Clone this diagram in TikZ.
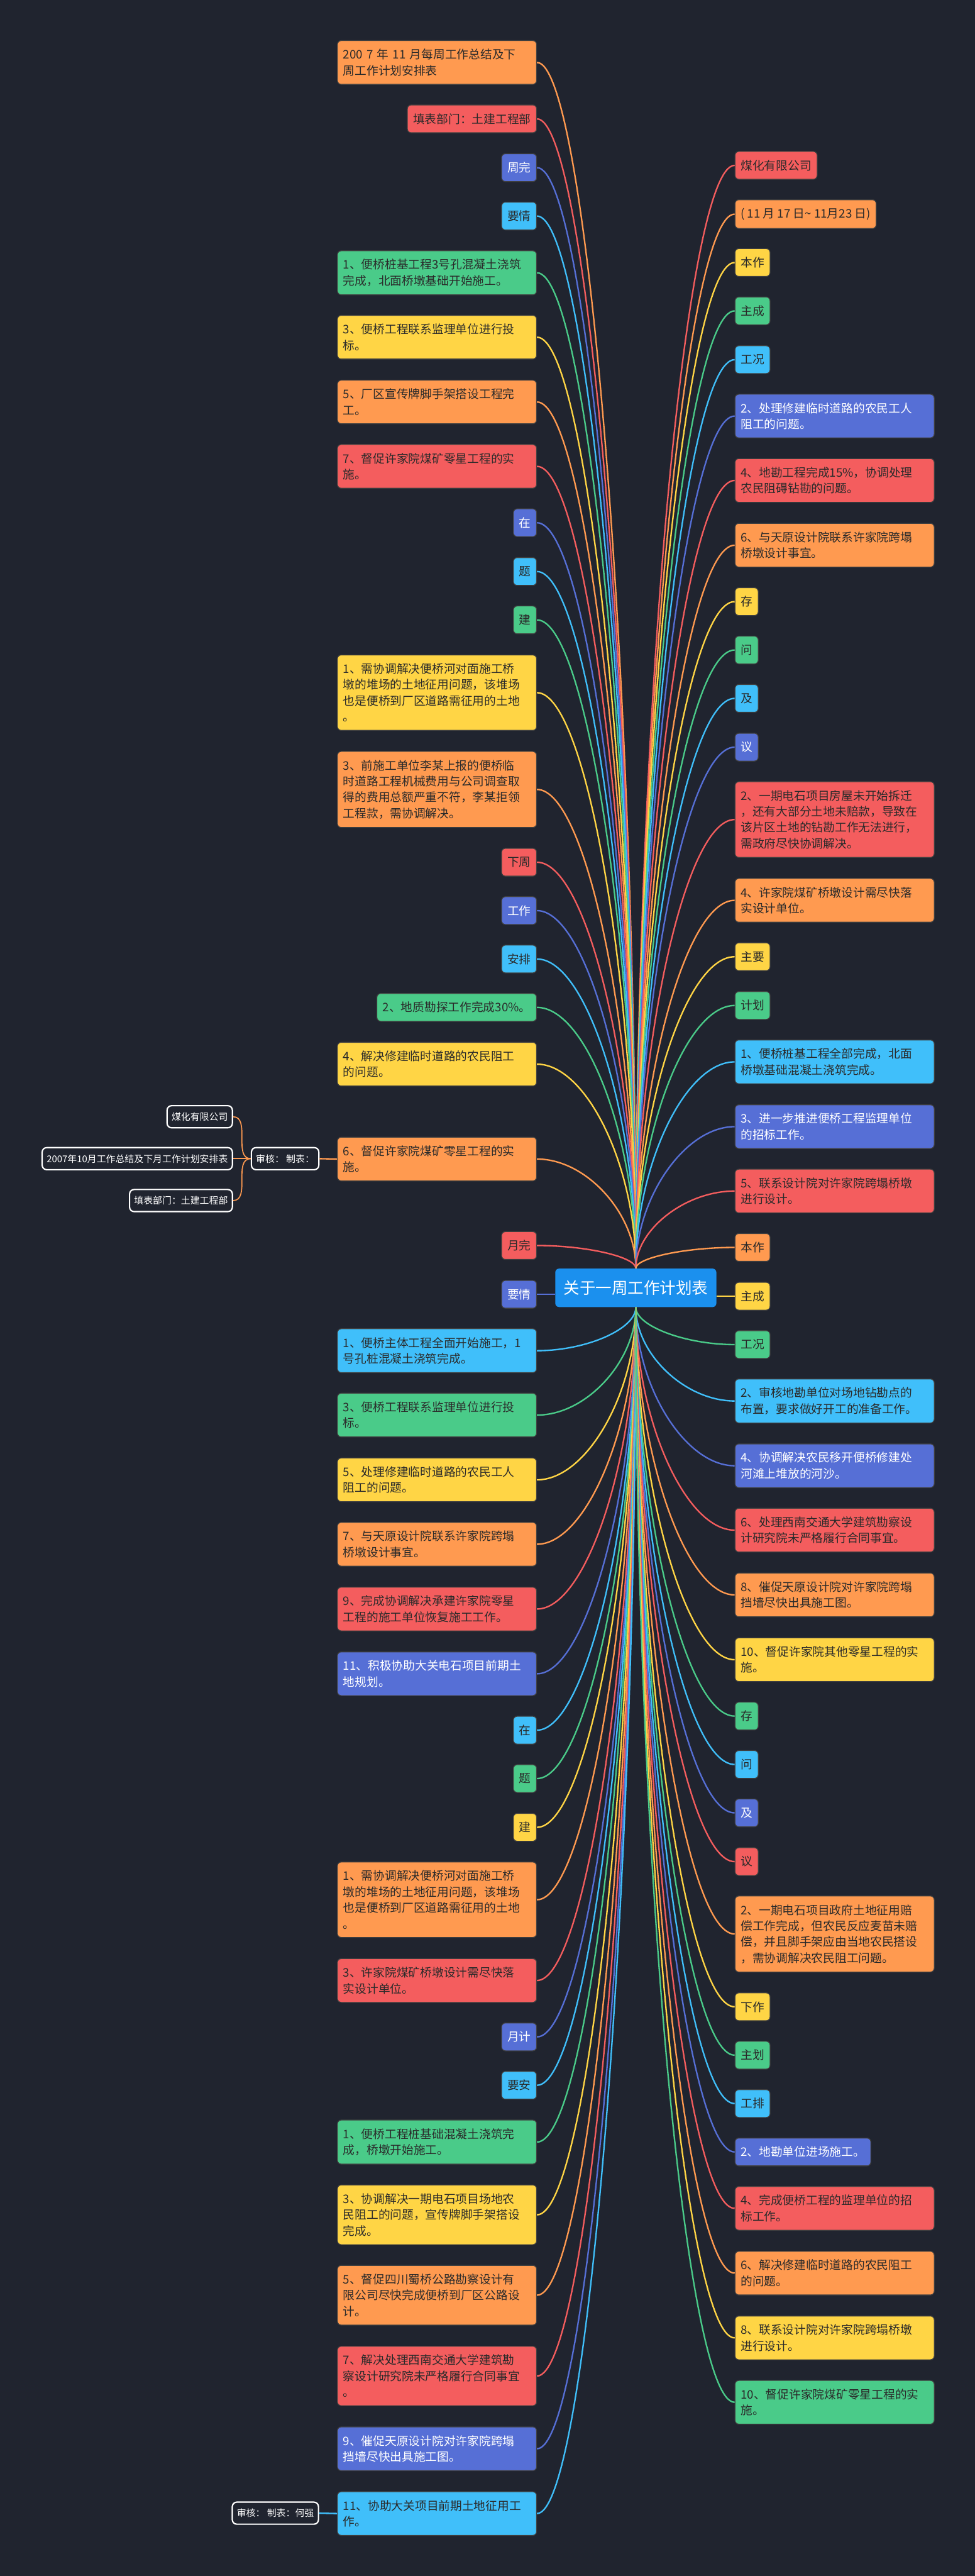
\documentclass[tikz,border=0pt]{standalone}
\usepackage{fontspec}
\setmainfont{Noto Sans CJK SC}
\usetikzlibrary{calc}
\definecolor{bgc}{HTML}{20242F}
\definecolor{cor}{HTML}{FF9A50}
\definecolor{cre}{HTML}{F45D5E}
\definecolor{cbl}{HTML}{566FD6}
\definecolor{ccy}{HTML}{40BFFA}
\definecolor{cgr}{HTML}{4ACB89}
\definecolor{cye}{HTML}{FFD545}
\definecolor{croot}{HTML}{1B90EE}
\definecolor{ctx}{HTML}{2A2A2A}
\tikzstyle{item}=[rectangle, rounded corners=0.1cm, draw=black!75, line width=0.6pt, inner xsep=0.15cm, inner ysep=0.22cm, minimum height=0.73cm, align=left, text=ctx, font=\fontsize{8.8}{11.95}\selectfont]
\tikzstyle{wide}=[item, text width=4.93cm]
\tikzstyle{lt}=[anchor=east]
\tikzstyle{rt}=[anchor=west]
\tikzstyle{wt}=[text=white]
\tikzstyle{tag}=[rectangle, rounded corners=0.12cm, draw=white, line width=1pt, fill=bgc, text=white, inner xsep=0.12cm, minimum height=0.58cm, font=\fontsize{7}{9}\selectfont]
\tikzstyle{rootbox}=[rectangle, rounded corners=0.1cm, fill=croot, text=white, minimum width=4.23cm, minimum height=1.01cm, font=\fontsize{12}{14}\selectfont]
\tikzstyle{br}=[line width=1.1pt, to path={.. controls ($(\tikztostart)!0.5!(\tikztostart -| \tikztotarget)$) and ($(\tikztotarget)!0.5!(\tikztotarget |- \tikztostart)$) .. (\tikztotarget)}]

\begin{document}
\begin{tikzpicture}
  \fill[bgc] (0,0) rectangle (25.6,-67.61);
  \node[rootbox] (root) at (16.695,-33.80) {关于一周工作计划表};

  % left side, upper half
  \node[wide,lt,fill=cor] (l1) at (14.10,-1.64) {200 7 年 11 月每周工作总结及下\\周工作计划安排表};
  \node[item,lt,fill=cre] (l2) at (14.10,-3.12) {填表部门：土建工程部};
  \node[item,lt,fill=cbl,wt] (l3) at (14.10,-4.40) {周完};
  \node[item,lt,fill=ccy] (l4) at (14.10,-5.67) {要情};
  \node[wide,lt,fill=cgr] (l5) at (14.10,-7.16) {1、便桥桩基工程3号孔混凝土浇筑\\完成，北面桥墩基础开始施工。};
  \node[wide,lt,fill=cye] (l6) at (14.10,-8.85) {3、便桥工程联系监理单位进行投\\标。};
  \node[wide,lt,fill=cor] (l7) at (14.10,-10.55) {5、厂区宣传牌脚手架搭设工程完\\工。};
  \node[wide,lt,fill=cre] (l8) at (14.10,-12.24) {7、督促许家院煤矿零星工程的实\\施。};
  \node[item,lt,fill=cbl,wt] (l9) at (14.10,-13.72) {在};
  \node[item,lt,fill=ccy] (l10) at (14.10,-15.00) {题};
  \node[item,lt,fill=cgr] (l11) at (14.10,-16.27) {建};
  \node[wide,lt,fill=cye] (l12) at (14.10,-18.18) {1、需协调解决便桥河对面施工桥\\墩的堆场的土地征用问题，该堆场\\也是便桥到厂区道路需征用的土地\\。};
  \node[wide,lt,fill=cor] (l13) at (14.10,-20.72) {3、前施工单位李某上报的便桥临\\时道路工程机械费用与公司调查取\\得的费用总额严重不符，李某拒领\\工程款，需协调解决。};
  \node[item,lt,fill=cre] (l14) at (14.10,-22.63) {下周};
  \node[item,lt,fill=cbl,wt] (l15) at (14.10,-23.90) {工作};
  \node[item,lt,fill=ccy] (l16) at (14.10,-25.17) {安排};
  \node[item,lt,fill=cgr] (l17) at (14.10,-26.44) {2、地质勘探工作完成30\%。};
  \node[wide,lt,fill=cye] (l18) at (14.10,-27.93) {4、解决修建临时道路的农民阻工\\的问题。};
  \node[wide,lt,fill=cor] (l19) at (14.10,-30.42) {6、督促许家院煤矿零星工程的实\\施。};
  \node[item,lt,fill=cre] (l20) at (14.10,-32.69) {月完};
  \node[item,lt,fill=cbl,wt] (l21) at (14.10,-33.97) {要情};
  % left side, lower half
  \node[wide,lt,fill=ccy] (l22) at (14.10,-35.45) {1、便桥主体工程全面开始施工，1\\号孔桩混凝土浇筑完成。};
  \node[wide,lt,fill=cgr] (l23) at (14.10,-37.14) {3、便桥工程联系监理单位进行投\\标。};
  \node[wide,lt,fill=cye] (l24) at (14.10,-38.84) {5、处理修建临时道路的农民工人\\阻工的问题。};
  \node[wide,lt,fill=cor] (l25) at (14.10,-40.53) {7、与天原设计院联系许家院跨塌\\桥墩设计事宜。};
  \node[wide,lt,fill=cre] (l26) at (14.10,-42.23) {9、完成协调解决承建许家院零星\\工程的施工单位恢复施工工作。};
  \node[wide,lt,fill=cbl,wt] (l27) at (14.10,-43.93) {11、积极协助大关电石项目前期土\\地规划。};
  \node[item,lt,fill=ccy] (l28) at (14.10,-45.41) {在};
  \node[item,lt,fill=cgr] (l29) at (14.10,-46.68) {题};
  \node[item,lt,fill=cye] (l30) at (14.10,-47.96) {建};
  \node[wide,lt,fill=cor] (l31) at (14.10,-49.86) {1、需协调解决便桥河对面施工桥\\墩的堆场的土地征用问题，该堆场\\也是便桥到厂区道路需征用的土地\\。};
  \node[wide,lt,fill=cre] (l32) at (14.10,-51.98) {3、许家院煤矿桥墩设计需尽快落\\实设计单位。};
  \node[item,lt,fill=cbl,wt] (l33) at (14.10,-53.46) {月计};
  \node[item,lt,fill=ccy] (l34) at (14.10,-54.73) {要安};
  \node[wide,lt,fill=cgr] (l35) at (14.10,-56.22) {1、便桥工程桩基础混凝土浇筑完\\成，桥墩开始施工。};
  \node[wide,lt,fill=cye] (l36) at (14.10,-58.13) {3、协调解决一期电石项目场地农\\民阻工的问题，宣传牌脚手架搭设\\完成。};
  \node[wide,lt,fill=cor] (l37) at (14.10,-60.24) {5、督促四川蜀桥公路勘察设计有\\限公司尽快完成便桥到厂区公路设\\计。};
  \node[wide,lt,fill=cre] (l38) at (14.10,-62.36) {7、解决处理西南交通大学建筑勘\\察设计研究院未严格履行合同事宜\\。};
  \node[wide,lt,fill=cbl,wt] (l39) at (14.10,-64.27) {9、催促天原设计院对许家院跨塌\\挡墙尽快出具施工图。};
  \node[wide,lt,fill=ccy] (l40) at (14.10,-65.97) {11、协助大关项目前期土地征用工\\作。};

  % right side, upper half
  \node[item,rt,fill=cre] (r1) at (19.29,-4.34) {煤化有限公司};
  \node[item,rt,fill=cor] (r2) at (19.29,-5.62) {( 11 月 17 日\textasciitilde{} 11月23 日)};
  \node[item,rt,fill=cye] (r3) at (19.29,-6.89) {本作};
  \node[item,rt,fill=cgr] (r4) at (19.29,-8.16) {主成};
  \node[item,rt,fill=ccy] (r5) at (19.29,-9.44) {工况};
  \node[wide,rt,fill=cbl,wt] (r6) at (19.29,-10.92) {2、处理修建临时道路的农民工人\\阻工的问题。};
  \node[wide,rt,fill=cre] (r7) at (19.29,-12.61) {4、地勘工程完成15\%，协调处理\\农民阻碍钻勘的问题。};
  \node[wide,rt,fill=cor] (r8) at (19.29,-14.31) {6、与天原设计院联系许家院跨塌\\桥墩设计事宜。};
  \node[item,rt,fill=cye] (r9) at (19.29,-15.79) {存};
  \node[item,rt,fill=cgr] (r10) at (19.29,-17.06) {问};
  \node[item,rt,fill=ccy] (r11) at (19.29,-18.33) {及};
  \node[item,rt,fill=cbl,wt] (r12) at (19.29,-19.61) {议};
  \node[wide,rt,fill=cre] (r13) at (19.29,-21.51) {2、一期电石项目房屋未开始拆迁\\，还有大部分土地未赔款，导致在\\该片区土地的钻勘工作无法进行，\\需政府尽快协调解决。};
  \node[wide,rt,fill=cor] (r14) at (19.29,-23.63) {4、许家院煤矿桥墩设计需尽快落\\实设计单位。};
  \node[item,rt,fill=cye] (r15) at (19.29,-25.11) {主要};
  \node[item,rt,fill=cgr] (r16) at (19.29,-26.39) {计划};
  \node[wide,rt,fill=ccy] (r17) at (19.29,-27.87) {1、便桥桩基工程全部完成，北面\\桥墩基础混凝土浇筑完成。};
  \node[wide,rt,fill=cbl,wt] (r18) at (19.29,-29.57) {3、进一步推进便桥工程监理单位\\的招标工作。};
  \node[wide,rt,fill=cre] (r19) at (19.29,-31.26) {5、联系设计院对许家院跨塌桥墩\\进行设计。};
  \node[item,rt,fill=cor] (r20) at (19.29,-32.74) {本作};
  \node[item,rt,fill=cye] (r21) at (19.29,-34.02) {主成};
  % right side, lower half
  \node[item,rt,fill=cgr] (r22) at (19.29,-35.29) {工况};
  \node[wide,rt,fill=ccy] (r23) at (19.29,-36.77) {2、审核地勘单位对场地钻勘点的\\布置，要求做好开工的准备工作。};
  \node[wide,rt,fill=cbl,wt] (r24) at (19.29,-38.47) {4、协调解决农民移开便桥修建处\\河滩上堆放的河沙。};
  \node[wide,rt,fill=cre] (r25) at (19.29,-40.16) {6、处理西南交通大学建筑勘察设\\计研究院未严格履行合同事宜。};
  \node[wide,rt,fill=cor] (r26) at (19.29,-41.86) {8、催促天原设计院对许家院跨塌\\挡墙尽快出具施工图。};
  \node[wide,rt,fill=cye] (r27) at (19.29,-43.56) {10、督促许家院其他零星工程的实\\施。};
  \node[item,rt,fill=cgr] (r28) at (19.29,-45.04) {存};
  \node[item,rt,fill=ccy] (r29) at (19.29,-46.31) {问};
  \node[item,rt,fill=cbl,wt] (r30) at (19.29,-47.58) {及};
  \node[item,rt,fill=cre] (r31) at (19.29,-48.86) {议};
  \node[wide,rt,fill=cor] (r32) at (19.29,-50.76) {2、一期电石项目政府土地征用赔\\偿工作完成，但农民反应麦苗未赔\\偿，并且脚手架应由当地农民搭设\\，需协调解决农民阻工问题。};
  \node[item,rt,fill=cye] (r33) at (19.29,-52.67) {下作};
  \node[item,rt,fill=cgr] (r34) at (19.29,-53.94) {主划};
  \node[item,rt,fill=ccy] (r35) at (19.29,-55.21) {工排};
  \node[item,rt,fill=cbl,wt] (r36) at (19.29,-56.48) {2、地勘单位进场施工。};
  \node[wide,rt,fill=cre] (r37) at (19.29,-57.96) {4、完成便桥工程的监理单位的招\\标工作。};
  \node[wide,rt,fill=cor] (r38) at (19.29,-59.66) {6、解决修建临时道路的农民阻工\\的问题。};
  \node[wide,rt,fill=cye] (r39) at (19.29,-61.36) {8、联系设计院对许家院跨塌桥墩\\进行设计。};
  \node[wide,rt,fill=cgr] (r40) at (19.29,-63.05) {10、督促许家院煤矿零星工程的实\\施。};

  % tags on the far left
  \node[tag,anchor=east] (shen) at (8.39,-30.41) {审核：\ 制表：};
  \node[tag,anchor=east] (mh) at (6.12,-29.31) {煤化有限公司};
  \node[tag,anchor=east] (zj) at (6.12,-30.41) {2007年10月工作总结及下月工作计划安排表};
  \node[tag,anchor=east] (tb) at (6.12,-31.51) {填表部门：土建工程部};
  \node[tag,anchor=east] (shen2) at (8.38,-65.96) {审核：\ 制表：何强};

  % branches to the root
  \draw[br,cor] (l1.east) to (root.north);
  \draw[br,cre] (l2.east) to (root.north);
  \draw[br,cbl] (l3.east) to (root.north);
  \draw[br,ccy] (l4.east) to (root.north);
  \draw[br,cgr] (l5.east) to (root.north);
  \draw[br,cye] (l6.east) to (root.north);
  \draw[br,cor] (l7.east) to (root.north);
  \draw[br,cre] (l8.east) to (root.north);
  \draw[br,cbl] (l9.east) to (root.north);
  \draw[br,ccy] (l10.east) to (root.north);
  \draw[br,cgr] (l11.east) to (root.north);
  \draw[br,cye] (l12.east) to (root.north);
  \draw[br,cor] (l13.east) to (root.north);
  \draw[br,cre] (l14.east) to (root.north);
  \draw[br,cbl] (l15.east) to (root.north);
  \draw[br,ccy] (l16.east) to (root.north);
  \draw[br,cgr] (l17.east) to (root.north);
  \draw[br,cye] (l18.east) to (root.north);
  \draw[br,cor] (l19.east) to (root.north);
  \draw[br,cre] (l20.east) to (root.north);
  \draw[cbl,line width=1.1pt] (l21.east) -- (l21.east -| root.west);
  \draw[br,ccy] (l22.east) to (root.south);
  \draw[br,cgr] (l23.east) to (root.south);
  \draw[br,cye] (l24.east) to (root.south);
  \draw[br,cor] (l25.east) to (root.south);
  \draw[br,cre] (l26.east) to (root.south);
  \draw[br,cbl] (l27.east) to (root.south);
  \draw[br,ccy] (l28.east) to (root.south);
  \draw[br,cgr] (l29.east) to (root.south);
  \draw[br,cye] (l30.east) to (root.south);
  \draw[br,cor] (l31.east) to (root.south);
  \draw[br,cre] (l32.east) to (root.south);
  \draw[br,cbl] (l33.east) to (root.south);
  \draw[br,ccy] (l34.east) to (root.south);
  \draw[br,cgr] (l35.east) to (root.south);
  \draw[br,cye] (l36.east) to (root.south);
  \draw[br,cor] (l37.east) to (root.south);
  \draw[br,cre] (l38.east) to (root.south);
  \draw[br,cbl] (l39.east) to (root.south);
  \draw[br,ccy] (l40.east) to (root.south);

  \draw[br,cre] (r1.west) to (root.north);
  \draw[br,cor] (r2.west) to (root.north);
  \draw[br,cye] (r3.west) to (root.north);
  \draw[br,cgr] (r4.west) to (root.north);
  \draw[br,ccy] (r5.west) to (root.north);
  \draw[br,cbl] (r6.west) to (root.north);
  \draw[br,cre] (r7.west) to (root.north);
  \draw[br,cor] (r8.west) to (root.north);
  \draw[br,cye] (r9.west) to (root.north);
  \draw[br,cgr] (r10.west) to (root.north);
  \draw[br,ccy] (r11.west) to (root.north);
  \draw[br,cbl] (r12.west) to (root.north);
  \draw[br,cre] (r13.west) to (root.north);
  \draw[br,cor] (r14.west) to (root.north);
  \draw[br,cye] (r15.west) to (root.north);
  \draw[br,cgr] (r16.west) to (root.north);
  \draw[br,ccy] (r17.west) to (root.north);
  \draw[br,cbl] (r18.west) to (root.north);
  \draw[br,cre] (r19.west) to (root.north);
  \draw[br,cor] (r20.west) to (root.north);
  \draw[cye,line width=1.1pt] (r21.west) -- (r21.west -| root.east);
  \draw[br,cgr] (r22.west) to (root.south);
  \draw[br,ccy] (r23.west) to (root.south);
  \draw[br,cbl] (r24.west) to (root.south);
  \draw[br,cre] (r25.west) to (root.south);
  \draw[br,cor] (r26.west) to (root.south);
  \draw[br,cye] (r27.west) to (root.south);
  \draw[br,cgr] (r28.west) to (root.south);
  \draw[br,ccy] (r29.west) to (root.south);
  \draw[br,cbl] (r30.west) to (root.south);
  \draw[br,cre] (r31.west) to (root.south);
  \draw[br,cor] (r32.west) to (root.south);
  \draw[br,cye] (r33.west) to (root.south);
  \draw[br,cgr] (r34.west) to (root.south);
  \draw[br,ccy] (r35.west) to (root.south);
  \draw[br,cbl] (r36.west) to (root.south);
  \draw[br,cre] (r37.west) to (root.south);
  \draw[br,cor] (r38.west) to (root.south);
  \draw[br,cye] (r39.west) to (root.south);
  \draw[br,cgr] (r40.west) to (root.south);

  % tag links
  \draw[cor,line width=1.1pt] (l19.west) -- (shen.east);
  \draw[cor,line width=0.8pt] (shen.west) to[out=180,in=0] (mh.east);
  \draw[cor,line width=0.8pt] (shen.west) -- (zj.east);
  \draw[cor,line width=0.8pt] (shen.west) to[out=180,in=0] (tb.east);
  \draw[ccy,line width=1.1pt] (l40.west) -- (shen2.east);
\end{tikzpicture}
\end{document}
